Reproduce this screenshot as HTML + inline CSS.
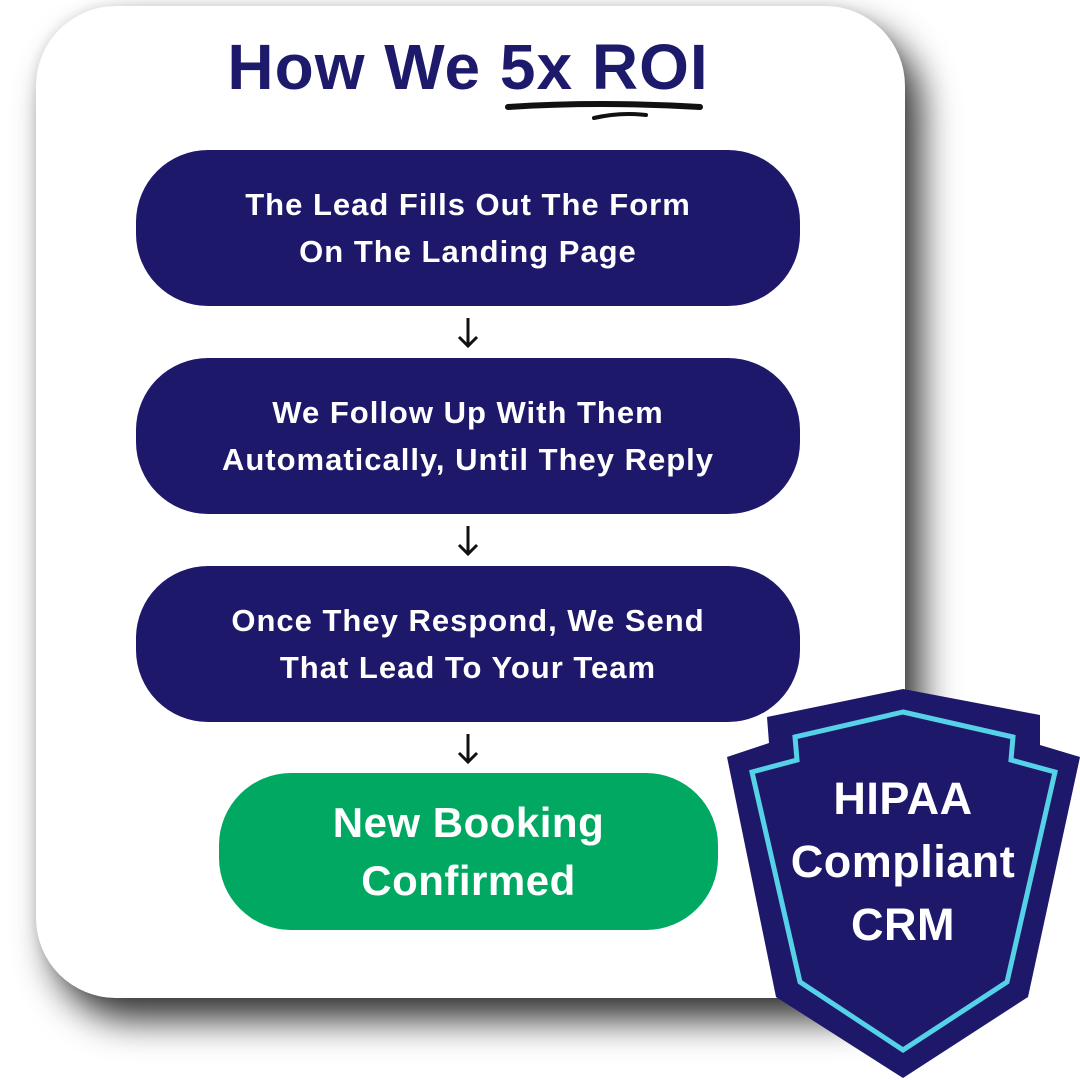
<!DOCTYPE html>
<html><head><style>
body{margin:0;width:1080px;height:1080px;background:#fff;position:relative;overflow:hidden;font-family:"Liberation Sans",sans-serif}
.card{position:absolute;left:36px;top:6px;width:869px;height:992px;background:#fff;border-radius:80px;box-shadow:16px 22px 36px rgba(0,0,0,.8), -2px -2px 10px rgba(0,0,0,.08)}
.title{position:absolute;left:0;width:936px;top:30px;text-align:center;font-weight:bold;font-size:64px;color:#1e1a6b;letter-spacing:1px}
.box{position:absolute;left:136px;width:664px;height:156px;background:#1e186b;border-radius:72px;color:#fff;font-weight:bold;font-size:31px;letter-spacing:1px;line-height:47px;display:flex;align-items:center;justify-content:center;text-align:center}
.green{left:219px;width:499px;height:157px;background:#00a862;font-size:42px;letter-spacing:0.5px;line-height:58px}
.arr{position:absolute;left:456px;width:24px;height:34px}
</style></head><body>
<div class="card"></div>
<div class="title">How We 5x ROI</div>
<svg style="position:absolute;left:0;top:0" width="1080" height="1080">
<path d="M508 107 Q600 101 700 107" stroke="#111" stroke-width="6" fill="none" stroke-linecap="round"/>
<path d="M594 118 Q620 112 646 115" stroke="#111" stroke-width="4" fill="none" stroke-linecap="round"/>
</svg>
<div class="box" style="top:150px">The Lead Fills Out The Form<br>On The Landing Page</div>
<div class="box" style="top:358px">We Follow Up With Them<br>Automatically, Until They Reply</div>
<div class="box" style="top:566px">Once They Respond, We Send<br>That Lead To Your Team</div>
<div class="box green" style="top:773px">New Booking<br>Confirmed</div>
<svg class="arr" style="top:316px" viewBox="0 0 24 34"><path d="M12 2V30M3 21L12 30L21 21" stroke="#111" stroke-width="3" fill="none"/></svg>
<svg class="arr" style="top:524px" viewBox="0 0 24 34"><path d="M12 2V30M3 21L12 30L21 21" stroke="#111" stroke-width="3" fill="none"/></svg>
<svg class="arr" style="top:732px" viewBox="0 0 24 34"><path d="M12 2V30M3 21L12 30L21 21" stroke="#111" stroke-width="3" fill="none"/></svg>
<svg style="position:absolute;left:0;top:0" width="1080" height="1080">
<polygon points="903,689 767,717 769,743 727,757 776,997 903,1078 1028,997 1080,757 1040,745 1040,715" fill="#1e186b"/>
<polygon points="903,712 795,737 797,760 752,772 800,982 903,1050 1007,982 1055,772 1011,760 1013,737" fill="none" stroke="#56d2e8" stroke-width="5" stroke-linejoin="miter"/>
<g font-family="Liberation Sans" font-weight="bold" font-size="45" fill="#fff" text-anchor="middle" letter-spacing="0.5">
<text x="903" y="814">HIPAA</text>
<text x="903" y="877">Compliant</text>
<text x="903" y="940">CRM</text>
</g>
</svg>
</body></html>
